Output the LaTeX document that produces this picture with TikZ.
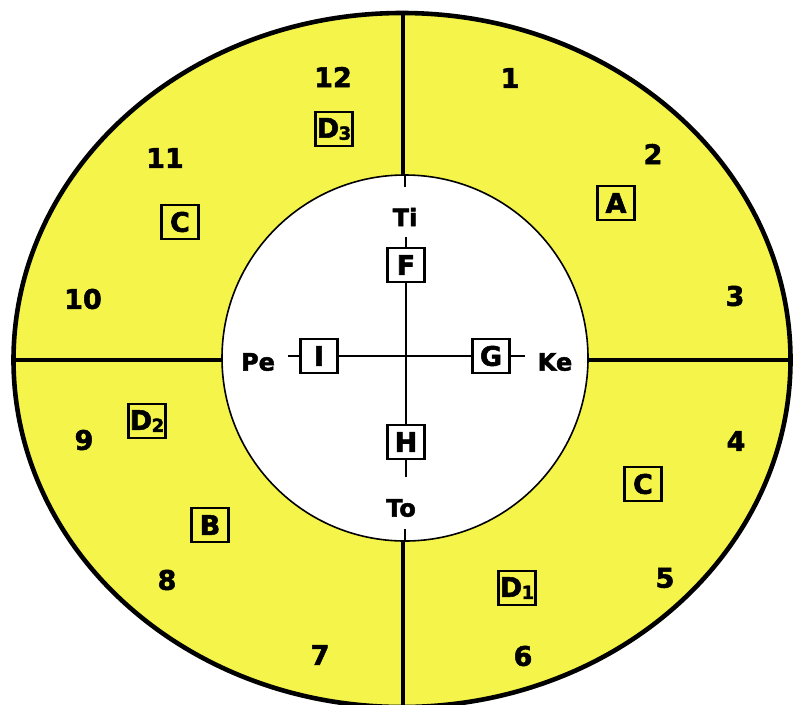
\documentclass[tikz,border=0pt]{standalone}
\usepackage{fontspec}
\setmainfont{DejaVu Sans}[BoldFeatures={FakeBold=2}]
\definecolor{fillyellow}{RGB}{244,244,74}
\begin{document}
\begin{tikzpicture}[x=1pt,y=-1pt,
  num/.style={font=\fontsize{27}{27}\selectfont\bfseries, inner sep=0pt},
  lab/.style={font=\fontsize{24}{24}\selectfont\bfseries, inner sep=0pt},
  tag/.style={draw, line width=2.8pt, minimum width=37pt, minimum height=34pt, inner sep=0pt,
              font=\fontsize{27}{27}\selectfont\bfseries},
  wtag/.style={tag, fill=white},
  thick line/.style={line width=3.8pt},
  thin line/.style={line width=1.6pt}]
\useasboundingbox (0,0) rectangle (794,704);
\newcommand{\subD}[1]{D\kern-0.5pt\raisebox{-2pt}{\fontsize{18}{18}\selectfont #1}}
% outer ellipse fill
\fill[fillyellow] (402,360) ellipse [x radius=388.5pt, y radius=347pt];
% quadrant lines
\coordinate (otop) at (403,13);
\coordinate (obot) at (403,712);
\coordinate (oleft) at (13.5,360);
\coordinate (oright) at (790.5,360);
\draw[thick line] (otop) -- (obot);
\draw[thick line] (oleft) -- (oright);
% outer ellipse border
\draw[line width=4.6pt] (402,360) ellipse [x radius=388.5pt, y radius=347pt];
% inner circle
\filldraw[fill=white, thin line] (405,358) circle [radius=183pt];
\draw[thin line] (405,175) -- (405,187);
\draw[thin line] (405,529) -- (405,541);
% inner labels
\node[lab] (ti) at (405,217) {Ti};
\node[lab] (to) at (401,508) {To};
\node[lab] (pe) at (258,362) {Pe};
\node[lab] (ke) at (555,362) {Ke};
% inner boxes
\node[wtag] (F) at (406,265) {F};
\node[wtag] (H) at (406,442) {H};
\node[wtag] (I) at (319,356) {I};
\node[wtag] (G) at (491,356) {G};
\coordinate (ctop) at (406,237);
\coordinate (cbot) at (406,477);
\coordinate (cleft) at (288,356);
\coordinate (cright) at (525,356);
\draw[thin line] (ctop) -- (F.north);
\draw[thin line] (F.south) -- (H.north);
\draw[thin line] (H.south) -- (cbot);
\draw[thin line] (cleft) -- (I.west);
\draw[thin line] (I.east) -- (G.west);
\draw[thin line] (G.east) -- (cright);
% numbers
\node[num] (n1) at (510,78) {1};
\node[num] (n2) at (653,154) {2};
\node[num] (n3) at (735,296) {3};
\node[num] (n4) at (736,441) {4};
\node[num] (n5) at (665,578) {5};
\node[num] (n6) at (523,656) {6};
\node[num] (n7) at (320,655) {7};
\node[num] (n8) at (167,580) {8};
\node[num] (n9) at (84,440) {9};
\node[num] (n10) at (83,299) {10};
\node[num] (n11) at (165,158) {11};
\node[num] (n12) at (333,77) {12};
% yellow-area boxes
\node[tag] (A) at (616,203) {A};
\node[tag] (C1) at (180,222) {C};
\node[tag] (C2) at (643,484) {C};
\node[tag] (B) at (210,525) {B};
\node[tag] (D1) at (517,588) {\subD{1}};
\node[tag] (D2) at (147,421) {\subD{2}};
\node[tag] (D3) at (334,129) {\subD{3}};
\end{tikzpicture}
\end{document}
